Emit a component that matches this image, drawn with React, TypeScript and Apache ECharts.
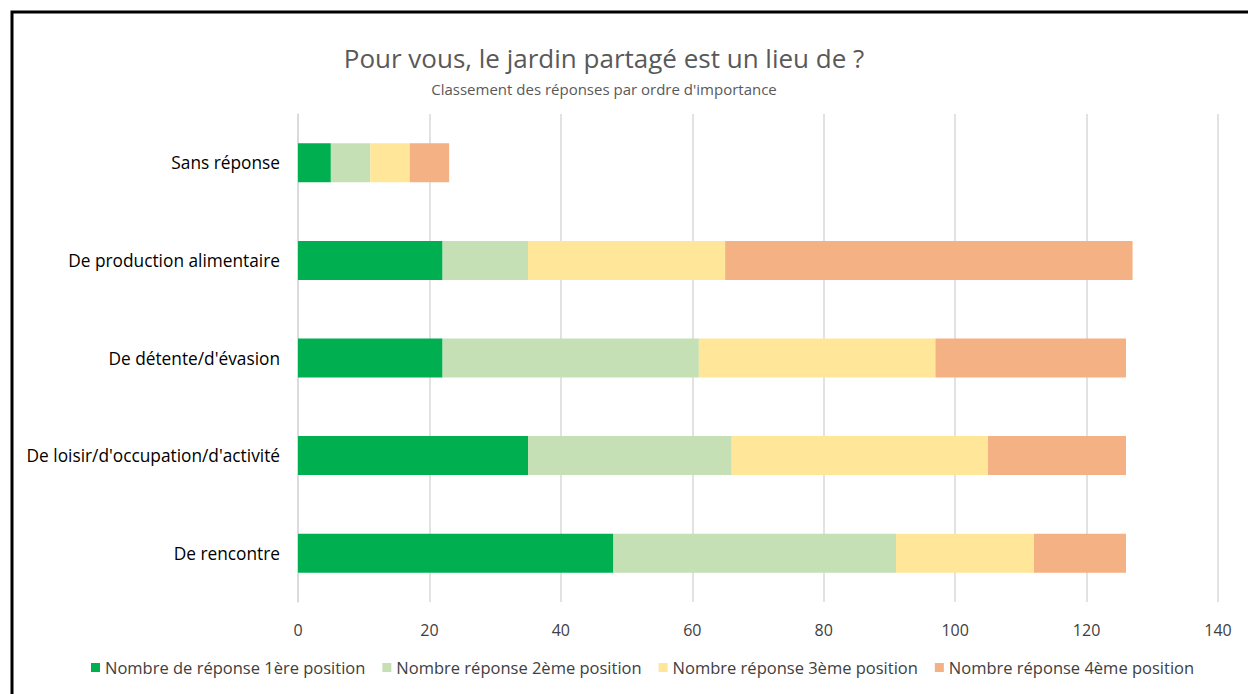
import React, { useEffect, useRef } from "react";
import * as echarts from "echarts";

const categories = [
  "Sans réponse",
  "De production alimentaire",
  "De détente/d'évasion",
  "De loisir/d'occupation/d'activité",
  "De rencontre",
];
const seriesNames = [
  "Nombre de réponse 1ère position",
  "Nombre réponse 2ème position",
  "Nombre réponse 3ème position",
  "Nombre réponse 4ème position",
];
const pos1 = [5, 22, 22, 35, 48];
const pos2 = [6, 13, 39, 31, 43];
const pos3 = [6, 30, 36, 39, 21];
const pos4 = [6, 62, 29, 21, 14];
const colors = ["#00B050", "#C5E0B4", "#FFE699", "#F4B183"];
const xTicks = { min: 0, max: 140, interval: 20 };

export default function App() {
  const ref = useRef<HTMLDivElement>(null);
  useEffect(() => {
    if (!ref.current) return;
    const chart = echarts.init(ref.current, null, { renderer: "svg" });
    const font = "'Open Sans', Lato, sans-serif";
    const data = [pos1, pos2, pos3, pos4];
    chart.setOption({
      animation: false,
      backgroundColor: "#ffffff",
      textStyle: { fontFamily: font },
      graphic: [
        {
          type: "polyline",
          shape: { points: [[12, 700], [12, 12], [1260, 12]] },
          style: { stroke: "#000", lineWidth: 3, fill: "none" },
        },
        {
          type: "text",
          x: 604,
          y: 58,
          style: {
            text: "Pour vous, le jardin partagé est un lieu de ?",
            fill: "#595959",
            font: `26px ${font}`,
            textAlign: "center",
            textVerticalAlign: "middle",
          },
        },
        {
          type: "text",
          x: 604,
          y: 89,
          style: {
            text: "Classement des réponses par ordre d'importance",
            fill: "#595959",
            font: `15px ${font}`,
            textAlign: "center",
            textVerticalAlign: "middle",
          },
        },
      ],
      legend: {
        bottom: 13,
        left: 86,
        itemWidth: 9,
        itemHeight: 9,
        itemGap: 17,
        icon: "rect",
        textStyle: { color: "#404040", fontSize: 16.5, fontFamily: font },
        data: seriesNames,
      },
      grid: { left: 298, right: 30, top: 114, bottom: 92 },
      xAxis: {
        type: "value",
        min: xTicks.min,
        max: xTicks.max,
        interval: xTicks.interval,
        axisLine: { show: false },
        axisTick: { show: false },
        axisLabel: { color: "#404040", fontSize: 16, margin: 20, fontFamily: font },
        splitLine: { lineStyle: { color: "#D9D9D9", width: 1.5 } },
      },
      yAxis: {
        type: "category",
        inverse: true,
        data: categories,
        axisLine: { show: true, lineStyle: { color: "#D9D9D9", width: 1.5 } },
        axisTick: { show: false },
        axisLabel: { color: "#000", fontSize: 17.3, margin: 18, fontFamily: font },
      },
      series: seriesNames.map((name, i) => ({
        name,
        type: "bar",
        stack: "total",
        barWidth: 39,
        data: data[i],
        itemStyle: { color: colors[i] },
      })),
    });
    return () => chart.dispose();
  }, []);
  return (
    <div
      ref={ref}
      style={{ position: "absolute", left: 0, top: 0, width: 1248, height: 694 }}
    />
  );
}
